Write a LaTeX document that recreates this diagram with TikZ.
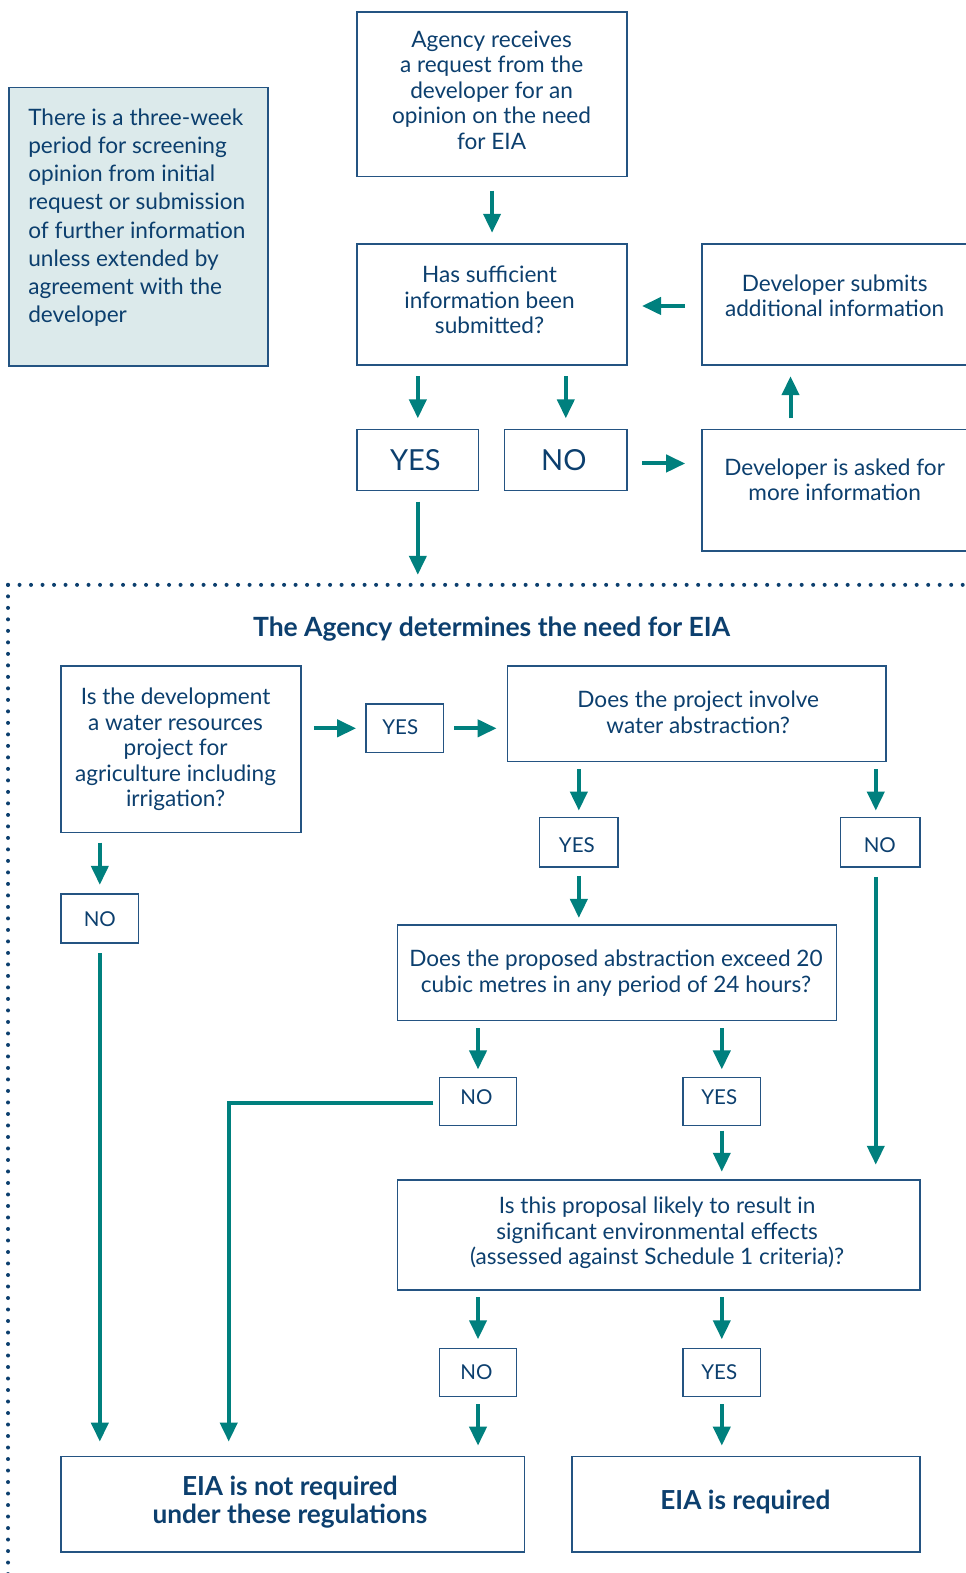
\documentclass[tikz,border=0pt]{standalone}
\usepackage{fontspec}
\setmainfont{Lato}
\usetikzlibrary{arrows.meta,calc}
\definecolor{teal1}{RGB}{0,128,126}
\definecolor{navy1}{RGB}{36,84,130}
\definecolor{txt1}{RGB}{12,63,110}
\definecolor{notefill}{RGB}{220,234,235}
\newcommand\mybox[6][]{\node[box,#1,minimum width={1.003*((#5)-(#3))},minimum height={1.003*((#6)-(#4))}] (#2) at ({((#3)+(#5))/2},{((#4)+(#6))/2}) {};}
\begin{document}
\begin{tikzpicture}[x=1.003pt,y=-1.003pt,
  box/.style={draw=navy1, line width=1.5pt, inner sep=0pt, outer sep=0pt, rectangle},
  txt/.style={text=txt1, align=center, font=\fontsize{22.6}{25.5}\selectfont, inner sep=0pt},
  bigyn/.style={text=txt1, font=\fontsize{29}{34}\selectfont, inner sep=0pt},
  yn/.style={text=txt1, font=\fontsize{20.5}{25}\selectfont, inner sep=0pt},
  boldtxt/.style={text=txt1, align=center, font=\fontsize{26.5}{28.5}\selectfont\bfseries, inner sep=0pt},
  arr/.style={draw=teal1, line width=4pt, -{Triangle[width=17pt,length=19pt]}},
  dots/.style={draw=txt1, line width=4pt, line cap=round, dash pattern=on 0pt off 11.5pt}]
\useasboundingbox (0,0) rectangle (962,1568);

% ---------- upper part ----------
\mybox[fill=notefill]{note}{9}{87}{267}{365}
\node[txt, align=left, anchor=west, font=\fontsize{22.6}{28.2}\selectfont] (notetext) at (28,217)
  {There is a three-week\\period for screening\\opinion from initial\\request or submission\\of further information\\unless extended by\\agreement with the\\developer};

\mybox{top}{356}{12}{625}{176}
\node[txt] (toptext) at (490,90) {Agency receives\\a request from the\\developer for an\\opinion on the need\\for EIA};

\mybox{suff}{356}{243}{625}{364}
\node[txt] (sufftext) at (488,299) {Has sufficient\\information been\\submitted?};

\mybox{sub}{700}{243}{967}{364}
\node[txt] (subtext) at (832,295) {Developer submits\\additional information};

\mybox{yes1}{356}{428}{477}{489}
\node[bigyn] (yes1text) at (414,459) {YES};
\mybox{no1}{503}{428}{625}{489}
\node[bigyn] (no1text) at (562,459) {NO};

\mybox{ask}{700}{428}{967}{549}
\node[txt] (asktext) at (832,478) {Developer is asked for\\more information};

\draw[arr, shorten <=14pt, shorten >=11pt] (top.south) -- (suff.north);
\draw[arr, shorten <=17pt, shorten >=15pt] (sub.west |- 0,305) -- (suff.east |- 0,305);
\draw[arr, shorten <=11pt, shorten >=11pt] (suff.south -| yes1.north) -- (yes1.north);
\draw[arr, shorten <=11pt, shorten >=11pt] (suff.south -| no1.north) -- (no1.north);
\draw[arr, shorten <=15pt, shorten >=17pt] (no1.east |- 0,462) -- (ask.west |- 0,462);
\coordinate (askx) at (788,0);
\draw[arr, shorten <=11pt, shorten >=11pt] (ask.north -| askx) -- (sub.south -| askx);
\coordinate (dotend) at (416.5,573);
\draw[arr, shorten <=11pt] (yes1.south) -- (dotend);

% ---------- dotted frame ----------
\coordinate (corner) at (8,583);
\draw[dots] (corner) -- (968,583);
\draw[dots] (corner) -- (8,1573);

\node[boldtxt] (title) at (490,627) {The Agency determines the need for EIA};

% ---------- lower part ----------
\mybox{q1}{61}{664}{300}{830}
\node[txt] (q1text) at (175,747) {Is the development\\a water resources\\project for\\agriculture including\\irrigation?};

\mybox{yes2}{365}{702}{442}{750}
\node[yn] (yes2text) at (399,725) {YES};

\mybox{q2}{506}{664}{883}{759}
\node[txt] (q2text) at (696,710) {Does the project involve\\water abstraction?};

\mybox{yes3}{538}{815}{616}{864}
\node[yn] (yes3text) at (575,842) {YES};
\mybox{no3}{838}{815}{917}{864}
\node[yn] (no3text) at (877,842) {NO};

\mybox{no2}{61}{891}{138}{940}
\node[yn] (no2text) at (99.5,916) {NO};

\mybox{q3}{396}{922}{834}{1017}
\node[txt] (q3text) at (614,970) {Does the proposed abstraction exceed 20\\cubic metres in any period of 24 hours?};

\mybox{no4}{438}{1074}{515}{1122}
\node[yn] (no4text) at (475,1094) {NO};
\mybox{yes4}{681}{1074}{758}{1122}
\node[yn] (yes4text) at (717,1094) {YES};

\mybox{q4}{396}{1176}{917}{1286}
\node[txt] (q4text) at (655,1229) {Is this proposal likely to result in\\significant environmental effects\\(assessed against Schedule 1 criteria)?};

\mybox{no5}{438}{1344}{515}{1392}
\node[yn] (no5text) at (475,1368) {NO};
\mybox{yes5}{681}{1344}{758}{1392}
\node[yn] (yes5text) at (717,1368) {YES};

\mybox{notreq}{61}{1452}{523}{1547}
\node[boldtxt, font=\fontsize{26.2}{28}\selectfont\bfseries] (notreqtext) at (289,1497) {EIA is not required\\under these regulations};
\mybox{req}{570}{1452}{917}{1547}
\node[boldtxt, font=\fontsize{26.2}{28}\selectfont\bfseries] (reqtext) at (743,1497) {EIA is required};

% ---------- lower arrows ----------
\draw[arr, shorten <=13pt, shorten >=10pt] (q1.east |- yes2.west) -- (yes2.west);
\draw[arr, shorten <=11pt, shorten >=11pt] (yes2.east) -- (q2.west |- yes2.east);
\draw[arr, shorten <=8pt, shorten >=7pt] (q2.south -| yes3.north) -- (yes3.north);
\coordinate (nox) at (873,0);
\draw[arr, shorten <=8pt, shorten >=7pt] (q2.south -| nox) -- (no3.north -| nox);
\draw[arr, shorten <=9pt, shorten >=7pt] (yes3.south) -- (q3.north -| yes3.south);
\draw[arr, shorten <=10pt, shorten >=9pt] (q1.south -| no2.north) -- (no2.north);
\draw[arr, shorten <=10pt, shorten >=15pt] (no2.south) -- (notreq.north -| no2.south);
\draw[arr, shorten <=8pt, shorten >=8pt] (q3.south -| no4.north) -- (no4.north);
\draw[arr, shorten <=8pt, shorten >=8pt] (q3.south -| yes4.north) -- (yes4.north);
\coordinate (bend) at (228,1099);
\draw[arr, shorten <=6pt, shorten >=15pt] (no4.west |- bend) -- (bend) -- (notreq.north -| bend);
\draw[arr, shorten <=5pt, shorten >=8pt] (yes4.south) -- (q4.north -| yes4.south);
\draw[arr, shorten <=10pt, shorten >=15pt] (no3.south -| nox) -- (q4.north -| nox);
\draw[arr, shorten <=7pt, shorten >=9pt] (q4.south -| no5.north) -- (no5.north);
\draw[arr, shorten <=7pt, shorten >=9pt] (q4.south -| yes5.north) -- (yes5.north);
\draw[arr, shorten <=8pt, shorten >=11pt] (no5.south) -- (notreq.north -| no5.south);
\draw[arr, shorten <=8pt, shorten >=11pt] (yes5.south) -- (req.north -| yes5.south);
\end{tikzpicture}
\end{document}
